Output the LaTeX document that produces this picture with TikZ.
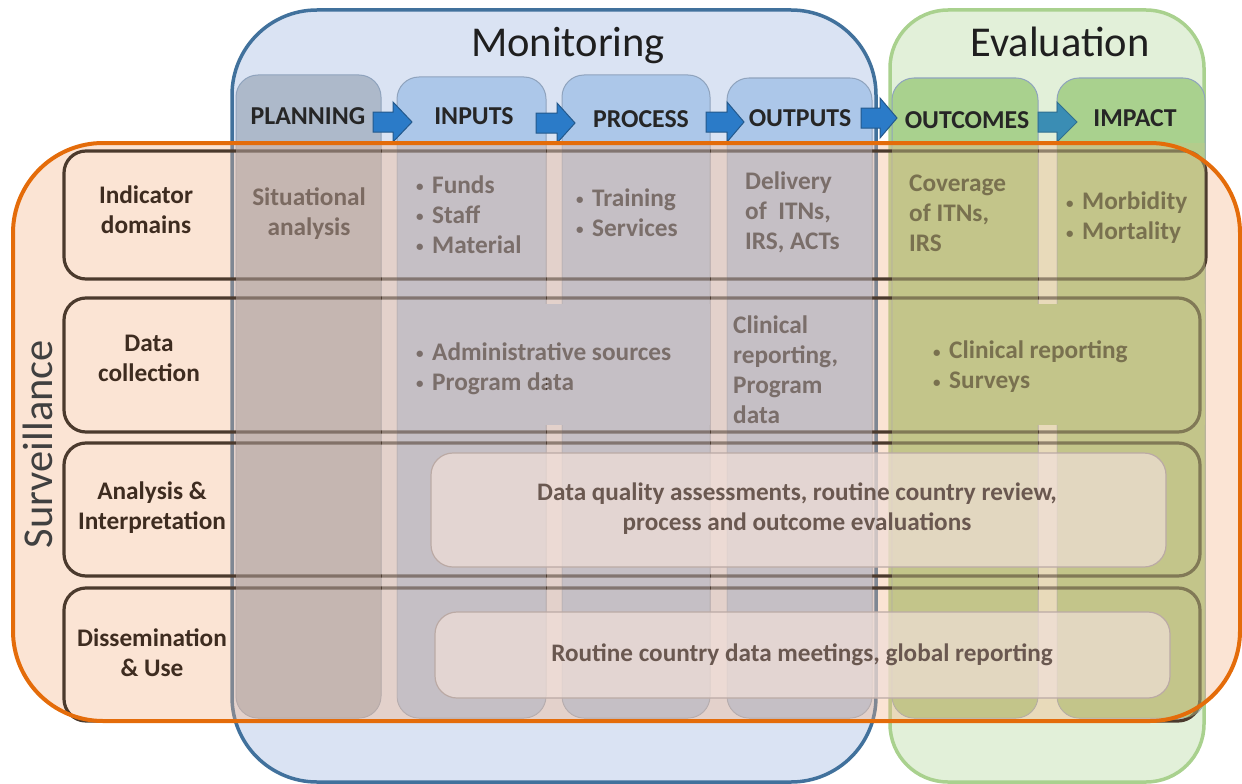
\documentclass[tikz,border=0pt]{standalone}
\usepackage{fontspec}
\setmainfont{Carlito}
\definecolor{monF}{HTML}{DAE3F3}
\definecolor{monB}{HTML}{41719C}
\definecolor{evF}{HTML}{E2F0D9}
\definecolor{evB}{HTML}{A9D18E}
\definecolor{planF}{HTML}{ADB9CA}
\definecolor{blueF}{HTML}{ACC7E9}
\definecolor{greenF}{HTML}{A9D18E}
\definecolor{colB}{HTML}{8FA3BD}
\definecolor{planS}{HTML}{C6B6B1}
\definecolor{blueS}{HTML}{C5BFC5}
\definecolor{greenS}{HTML}{C3C68A}
\definecolor{gapM}{HTML}{E3D2CC}
\definecolor{gapE}{HTML}{E8DABB}
\definecolor{survF}{HTML}{F4B183}
\definecolor{survB}{HTML}{E46C0A}
\definecolor{rowB}{HTML}{4B3A2D}
\definecolor{txtB}{HTML}{3E2C20}
\definecolor{arrF}{HTML}{2B7BC8}
\definecolor{arrB}{HTML}{24598C}
\definecolor{arrTF}{HTML}{3A8DB4}
\definecolor{arrTB}{HTML}{2F6F90}
\definecolor{boxF}{HTML}{F0DFD8}
\definecolor{boxB}{HTML}{BBAAA5}
\definecolor{boxT}{HTML}{6A5850}
\definecolor{hdr}{HTML}{262626}
\newcommand{\blockarr}[5]{%
  \draw[#5] ({#1},{#4-10}) -- ({#2},{#4-10}) -- ({#2},{#4-20}) -- ({#3},{#4})
    -- ({#2},{#4+20}) -- ({#2},{#4+10}) -- ({#1},{#4+10}) -- cycle;}
\newcommand{\bul}{\makebox[16pt][l]{\fontsize{15}{15}\selectfont\raisebox{1.8pt}{•}}}
\tikzset{
  colbox/.style={rounded corners=22pt, draw=colB, line width=1pt},
  rowbox/.style={rounded corners=22pt, draw=rowB, line width=3.2pt},
  lbl/.style={font=\fontsize{25.3}{30}\selectfont\bfseries, text=txtB, align=center, inner sep=0pt},
  cell/.style={lbl, align=left},
  hdrtxt/.style={font=\fontsize{25.8}{30}\selectfont\bfseries, text=hdr, inner sep=0pt},
  titletxt/.style={font=\fontsize{42.5}{50}\selectfont, text=black!88, inner sep=0pt},
  txtbox/.style={rounded corners=22pt, fill=boxF, fill opacity=0.7, draw=boxB, line width=1.2pt},
  boxtext/.style={font=\fontsize{25.2}{30}\selectfont\bfseries, text=boxT, align=center, inner sep=0pt},
  blarrow/.style={fill=arrF, draw=arrB, line width=1pt},
  blarrowT/.style={fill=arrTF, draw=arrTB, line width=1pt}
}
\begin{document}
\begin{tikzpicture}[x=1pt,y=-1pt]
\useasboundingbox (0,0) rectangle (1242,784);
% Monitoring and Evaluation frames
\draw[fill=monF, draw=monB, line width=3.5pt, rounded corners=85pt] (232,10) rectangle (876,782);
\draw[fill=evF, draw=evB, line width=3.5pt, rounded corners=58pt] (890,10) rectangle (1204,782);
\node[titletxt, anchor=base] (montitle) at (568,57) {Monitoring};
\node[titletxt, anchor=base] (evtitle) at (1060,57) {Evaluation};
% Columns
\draw[colbox, fill=planF] (236,75) rectangle (381,718);
\draw[colbox, fill=blueF] (397,77) rectangle (546,718);
\draw[colbox, fill=blueF] (562,75) rectangle (710,718);
\draw[colbox, fill=blueF] (727,78) rectangle (872,718);
\draw[colbox, fill=greenF] (892,78) rectangle (1038,718);
\draw[colbox, fill=greenF] (1057,78) rectangle (1205,718);
\fill[blueF] (397.5,304) rectangle (709.5,425);
\fill[greenF] (892.5,304) rectangle (1204.5,425);
% Arrows
\blockarr{373}{393}{412}{122}{blarrow}
\blockarr{536}{557}{575}{123}{blarrow}
\blockarr{706}{727}{744}{122}{blarrow}
\blockarr{861}{880}{897}{118}{blarrow}
\blockarr{1038}{1057}{1077}{122}{blarrowT}
% Headers
\node[hdrtxt] (hplan) at (308,116) {PLANNING};
\node[hdrtxt] (hin) at (474,116) {INPUTS};
\node[hdrtxt] (hproc) at (641,119) {PROCESS};
\node[hdrtxt] (hout) at (800,118) {OUTPUTS};
\node[hdrtxt] (houtc) at (967,120) {OUTCOMES};
\node[hdrtxt] (himp) at (1135,118) {IMPACT};
% Surveillance fill
\fill[survF, fill opacity=0.35, rounded corners=90pt] (13,143) rectangle (1240,721);
% Rows
\draw[rowbox] (64,151) rectangle (1206,279);
\draw[rowbox] (64,298) rectangle (1200,432);
\draw[rowbox] (64,443) rectangle (1200,576);
\draw[rowbox] (64,588) rectangle (1200,721);
% Cell texts
\node[lbl] (sit) at (309,214) {Situational\\analysis};
\node[cell, anchor=west] (inp) at (416,215) {\bul Funds\\\bul Staff\\\bul Material};
\node[cell, anchor=west] (proc) at (576,213) {\bul Training\\\bul Services};
\node[cell, anchor=west] (outp) at (745,212) {Delivery\\of\ \ ITNs,\\IRS, ACTs};
\node[cell, anchor=west] (outc) at (909,213) {Coverage\\of ITNs,\\IRS};
\node[cell, anchor=west] (imp) at (1066,218) {\bul Morbidity\\\bul Mortality};
\node[cell, anchor=west] (adm) at (416,369) {\bul Administrative sources\\\bul Program data};
\node[cell, anchor=west] (clin) at (733,370) {Clinical\\reporting,\\Program\\data};
\node[cell, anchor=west] (surv) at (933,367) {\bul Clinical reporting\\\bul Surveys};
% Overlay muting the contents of the columns and of the gaps between them
\begin{scope}
\clip (0,143) rectangle (1242,784);
\fill[planS, fill opacity=0.45, rounded corners=22pt] (236,75) rectangle (381,718);
\fill[blueS, fill opacity=0.45, rounded corners=22pt] (397,77) rectangle (546,718);
\fill[blueS, fill opacity=0.45, rounded corners=22pt] (562,75) rectangle (710,718);
\fill[blueS, fill opacity=0.45, rounded corners=22pt] (727,78) rectangle (872,718);
\fill[greenS, fill opacity=0.45, rounded corners=22pt] (892,78) rectangle (1038,718);
\fill[greenS, fill opacity=0.45, rounded corners=22pt] (1057,78) rectangle (1205,718);
\fill[gapM, fill opacity=0.45] (381.5,143) rectangle (396.5,718);
\fill[gapM, fill opacity=0.45] (546.5,143) rectangle (561.5,304);
\fill[blueS, fill opacity=0.45] (546.5,304) rectangle (561.5,425);
\fill[gapM, fill opacity=0.45] (546.5,425) rectangle (561.5,718);
\fill[gapM, fill opacity=0.45] (710.5,143) rectangle (726.5,718);
\fill[gapE, fill opacity=0.45] (1038.5,143) rectangle (1056.5,304);
\fill[greenS, fill opacity=0.45] (1038.5,304) rectangle (1056.5,425);
\fill[gapE, fill opacity=0.45] (1038.5,425) rectangle (1056.5,718);
\end{scope}
% Row labels
\node[lbl] (lind) at (146,210) {Indicator\\domains};
\node[lbl] (ldat) at (149,358) {Data\\collection};
\node[lbl] (lana) at (152,508) {Analysis \&\\Interpretation};
\node[lbl] (ldis) at (152,653) {Dissemination\\\& Use};
% Text boxes
\draw[txtbox] (431,453) rectangle (1166,567);
\node[boxtext] (dq) at (797,509) {Data quality assessments, routine country review,\\process and outcome evaluations};
\draw[txtbox] (435,612) rectangle (1170,698);
\node[boxtext] (rt) at (802,655) {Routine country data meetings, global reporting};
% Surveillance border and title
\draw[survB, line width=4pt, rounded corners=90pt] (13,143) rectangle (1240,721);
\node[titletxt, rotate=90, text=black!75] (survtitle) at (38,444) {Surveillance};
\end{tikzpicture}
\end{document}
